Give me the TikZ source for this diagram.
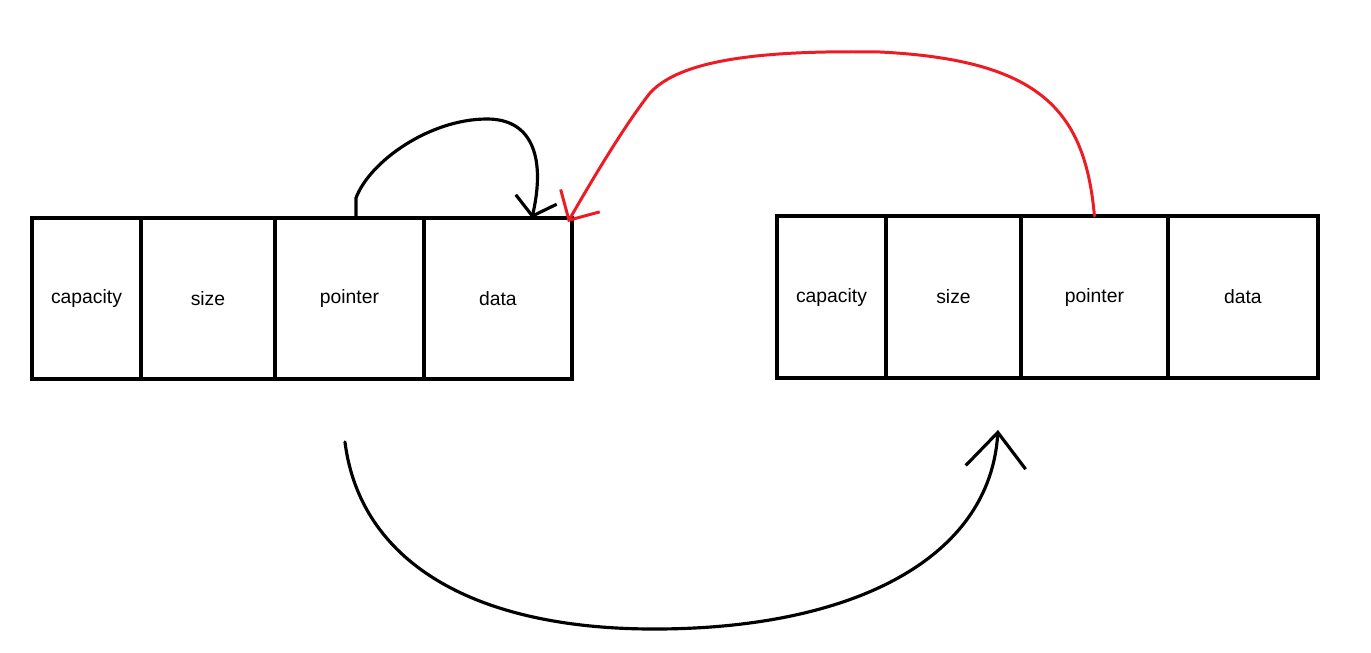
\documentclass[tikz,border=0pt]{standalone}
\usepackage{fontspec}
\setmainfont{Liberation Sans}
\usetikzlibrary{positioning,arrows.meta}
\definecolor{vecBlack}{RGB}{0,0,0}
\definecolor{vecRed}{RGB}{237,28,36}

\begin{document}
\begin{tikzpicture}[x=0.02cm, y=-0.02cm,
  cell/.style={draw=vecBlack, line width=2.3pt, rectangle, inner sep=0pt, outer sep=0pt,
    font=\fontsize{11pt}{13pt}\selectfont},
  link/.style={line width=1.8pt, line cap=round, line join=round}]
  \useasboundingbox (0,0) rectangle (1371,652);

  % Left array
  \node[cell, minimum width=2.18cm, minimum height=3.22cm] (capL) at (86.5,298.5) {capacity};
  \node[cell, minimum width=2.68cm, minimum height=3.22cm, right=0pt of capL] (sizeL) {size};
  \node[cell, minimum width=2.98cm, minimum height=3.22cm, right=0pt of sizeL] (ptrL) {pointer};
  \node[cell, minimum width=2.96cm, minimum height=3.22cm, right=0pt of ptrL] (dataL) {data};

  % Right array
  \node[cell, minimum width=2.18cm, minimum height=3.24cm] (capR) at (831.5,297) {capacity};
  \node[cell, minimum width=2.70cm, minimum height=3.24cm, right=0pt of capR] (sizeR) {size};
  \node[cell, minimum width=2.94cm, minimum height=3.24cm, right=0pt of sizeR] (ptrR) {pointer};
  \node[cell, minimum width=3.00cm, minimum height=3.24cm, right=0pt of ptrR] (dataR) {data};

  % Bends of the curves
  \coordinate (loopTop) at (487,119);
  \coordinate (redTop) at (880,52);
  \coordinate (redBend) at (650,93);
  \coordinate (botLow) at (650,629);

  % Pointer of the left array to its own data
  \draw[link, vecBlack, -{Straight Barb[length=0.34cm, width=0.84cm]}]
    ([xshift=0.13cm]ptrL.north) -- ++(0,-20)
    .. controls +(14,-37) and +(-57,0) .. (loopTop)
    .. controls +(48,0) and +(13,-56) .. ([xshift=-0.8cm]dataL.north east);

  % Pointer of the right array to the left data
  \draw[link, vecRed, line width=1.7pt, -{Straight Barb[length=0.45cm, width=0.9cm]}]
    (ptrR.north) .. controls +(-9.5,-106) and +(160,8) .. (redTop)
    .. controls +(-120,-2) and +(30,-33) .. (redBend)
    .. controls +(-25,32) and +(27,-47) .. ([xshift=-0.08cm, yshift=-0.08cm]dataL.north east);

  % Copy from left to right
  \draw[link, vecBlack, -{Straight Barb[length=0.7cm, width=1.2cm]}]
    ([shift={(-0.09cm,-1.26cm)}]ptrL.south) .. controls +(15,118) and +(-180,-1) .. (botLow)
    .. controls +(200,1) and +(-8,130) .. ([shift={(-0.46cm,-1.04cm)}]sizeR.south east);
\end{tikzpicture}
\end{document}
